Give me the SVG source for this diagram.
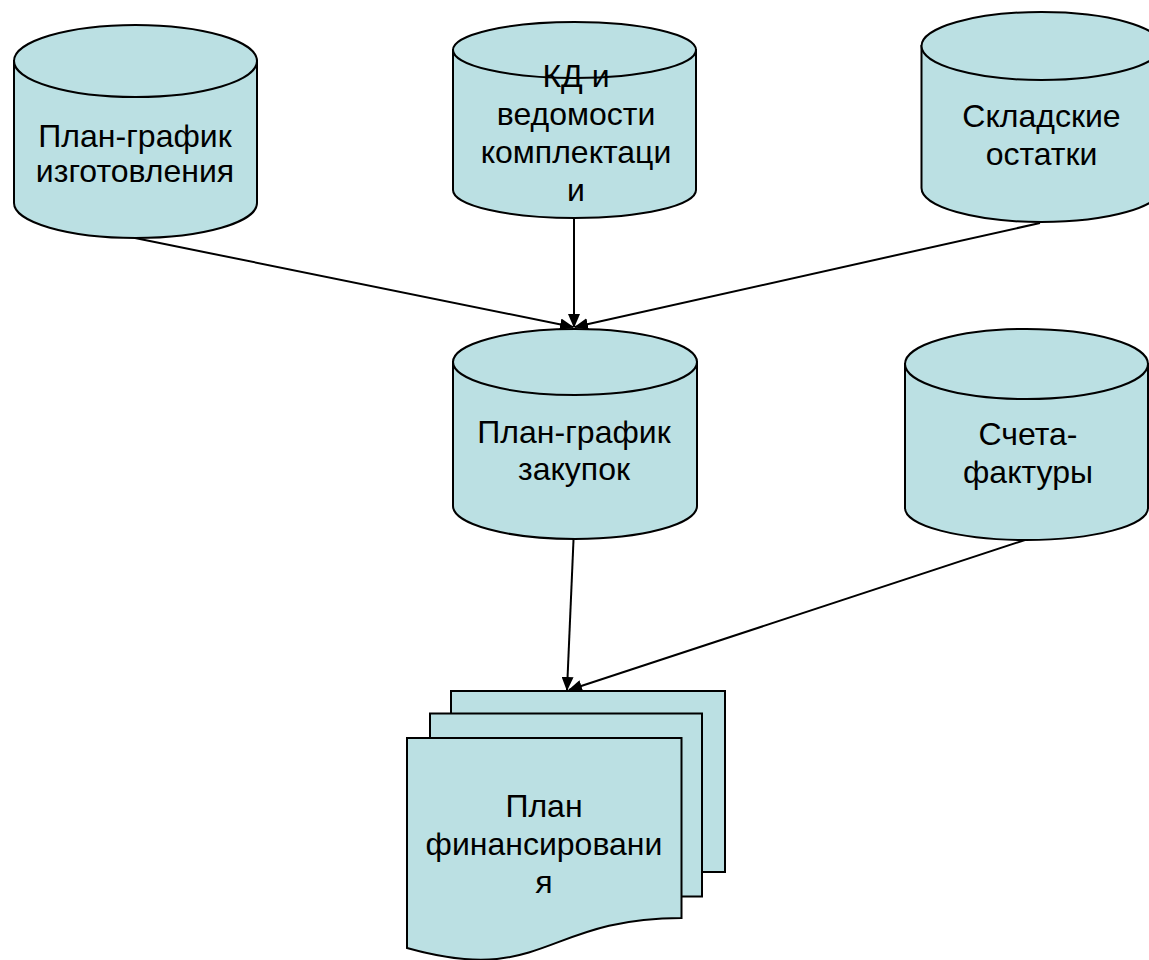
<svg xmlns="http://www.w3.org/2000/svg" width="1149" height="960" viewBox="0 0 1149 960">
  <defs>
    <style>
      .shape { fill: #BBE0E3; stroke: #000000; stroke-width: 2; }
      .lbl { font-family: "Liberation Sans", Arial, sans-serif; font-size: 32px; fill: #000000; text-anchor: middle; }
      .conn { stroke: #000000; stroke-width: 2; fill: none; marker-end: url(#arrow); }
    </style>
    <marker id="arrow" markerUnits="userSpaceOnUse" markerWidth="14" markerHeight="12" refX="13" refY="6" orient="auto">
      <path d="M0,0 L14,6 L0,12 Z" fill="#000000"/>
    </marker>
  </defs>
  <rect width="1149" height="960" fill="#ffffff"/>

  <g id="node-plan-izgotovleniya">
    <path class="shape" d="M14,61 V203 A121.5,35 0 0 0 257,203 V61 Z"/>
    <ellipse class="shape" cx="135.5" cy="61" rx="121.5" ry="36"/>
    <text class="lbl" x="135" y="147">План-график</text>
    <text class="lbl" x="135" y="182">изготовления</text>
  </g>

  <g id="node-kd">
    <path class="shape" d="M453,50 V190 A121.5,28 0 0 0 696,190 V50 Z"/>
    <ellipse class="shape" cx="574.5" cy="50" rx="121.5" ry="28"/>
    <text class="lbl" x="576" y="87">КД и</text>
    <text class="lbl" x="576" y="125">ведомости</text>
    <text class="lbl" x="576" y="163">комплектаци</text>
    <text class="lbl" x="576" y="201">и</text>
  </g>

  <g id="node-skladskie">
    <path class="shape" d="M921.5,46 V188 A120,34 0 0 0 1161.5,188 V46 Z"/>
    <ellipse class="shape" cx="1041.5" cy="46" rx="120" ry="34"/>
    <text class="lbl" x="1041.5" y="127">Складские</text>
    <text class="lbl" x="1041.5" y="165">остатки</text>
  </g>

  <g id="node-plan-zakupok">
    <path class="shape" d="M453,362 V506 A122,33 0 0 0 697,506 V362 Z"/>
    <ellipse class="shape" cx="575" cy="362" rx="122" ry="33"/>
    <text class="lbl" x="574" y="443">План-график</text>
    <text class="lbl" x="574" y="480">закупок</text>
  </g>

  <g id="node-scheta">
    <path class="shape" d="M905,364 V508 A121.5,32 0 0 0 1148,508 V364 Z"/>
    <ellipse class="shape" cx="1026.5" cy="364" rx="121.5" ry="35"/>
    <text class="lbl" x="1028" y="445">Счета-</text>
    <text class="lbl" x="1028" y="483">фактуры</text>
  </g>

  <g id="node-plan-finansirovaniya">
    <rect class="shape" x="451" y="691" width="274" height="181"/>
    <rect class="shape" x="430" y="713.5" width="272" height="183"/>
    <path class="shape" d="M407,738 H681.5 V918 C544,918 544,986.5 407,948 Z"/>
    <text class="lbl" x="544" y="817">План</text>
    <text class="lbl" x="544" y="855">финансировани</text>
    <text class="lbl" x="544" y="893">я</text>
  </g>

  <g id="connectors">
    <line class="conn" x1="135" y1="238" x2="573" y2="327"/>
    <line class="conn" x1="574" y1="218" x2="574" y2="327"/>
    <line class="conn" x1="1040" y1="223" x2="575" y2="327"/>
    <line class="conn" x1="573.5" y1="540" x2="567" y2="690"/>
    <line class="conn" x1="1025" y1="540" x2="569" y2="690"/>
  </g>
</svg>
